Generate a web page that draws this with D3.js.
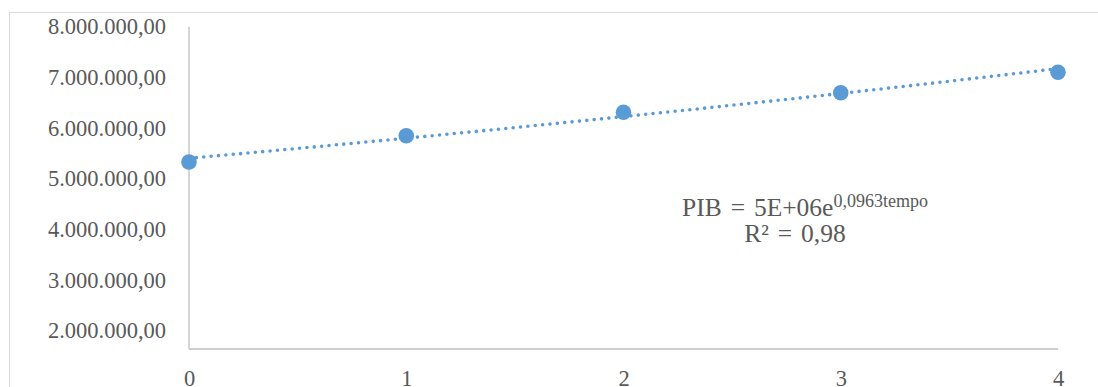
<!DOCTYPE html>
<html>
<head>
<meta charset="utf-8">
<script src="https://cdn.jsdelivr.net/npm/d3@7"></script>
<style>
  html, body { margin: 0; padding: 0; background: #fff; }
  svg { display: block; }
  text { font-family: "Liberation Serif", "Times New Roman", serif; fill: #595959; }
</style>
</head>
<body>
<svg id="chart" width="1098" height="387"></svg>
<script>
// PIB by period (tempo)
const tempo = [0, 1, 2, 3, 4];
const pib = [5328000, 5847000, 6309000, 6696000, 7099000];
const yTicks = [2000000, 3000000, 4000000, 5000000, 6000000, 7000000, 8000000];
const xTicks = [0, 1, 2, 3, 4];
const equationMain = "PIB = 5E+06e";
const equationExp = "0,0963tempo";
const rSquared = "R² = 0,98";

(function () {
  const W = 1098, H = 387;
  const svg = d3.select("#chart");
  const blue = "#5B9BD5";

  const plotLeft = 189, plotRight = 1058, plotTop = 26.7, plotBottom = 349;

  const x = d3.scaleLinear().domain([0, 4]).range([plotLeft, plotRight]);
  const y = d3.scaleLinear().domain([2000000, 8000000]).range([330.5, plotTop]);

  // chart area frame
  svg.append("rect")
    .attr("x", 9.5).attr("y", 12.5)
    .attr("width", W + 20).attr("height", H + 20)
    .attr("fill", "none").attr("stroke", "#d9d9d9").attr("stroke-width", 1);

  const loc = d3.formatLocale({ decimal: ",", thousands: ".", grouping: [3], currency: ["", ""] });
  const fmt = loc.format(",.2f");

  // value axis
  const yAxis = svg.append("g")
    .attr("transform", `translate(${plotLeft},0)`)
    .call(d3.axisLeft(y).tickValues(yTicks).tickFormat(fmt).tickSize(0).tickPadding(23));
  yAxis.select(".domain").remove();
  yAxis.selectAll("text")
    .style("font-family", '"Liberation Serif", "Times New Roman", serif')
    .style("font-size", "22.5px").attr("fill", "#595959");

  // category axis labels
  const xAxis = svg.append("g")
    .attr("transform", `translate(0,${plotBottom})`)
    .call(d3.axisBottom(x).tickValues(xTicks).tickFormat(d3.format("d")).tickSize(0).tickPadding(0));
  xAxis.select(".domain").remove();
  xAxis.selectAll("text")
    .attr("dy", null).attr("y", 36.5)
    .style("font-family", '"Liberation Serif", "Times New Roman", serif')
    .style("font-size", "22.5px").attr("fill", "#595959");

  // axis lines
  svg.append("line")
    .attr("x1", plotLeft).attr("x2", plotLeft).attr("y1", plotTop).attr("y2", plotBottom)
    .attr("stroke", "#bfbfbf").attr("stroke-width", 1.3);
  svg.append("line")
    .attr("x1", plotLeft).attr("x2", plotRight).attr("y1", plotBottom).attr("y2", plotBottom)
    .attr("stroke", "#bfbfbf").attr("stroke-width", 1.3);

  // exponential trend fitted by least squares on ln(PIB)
  const lnY = pib.map(v => Math.log(v));
  const mt = d3.mean(tempo), ml = d3.mean(lnY);
  const b = d3.sum(tempo.map((t, i) => (t - mt) * (lnY[i] - ml))) / d3.sum(tempo.map(t => (t - mt) ** 2));
  const a = Math.exp(ml - b * mt);
  const trend = d3.range(0, 4.0001, 0.05).map(t => [t, a * Math.exp(b * t)]);

  svg.append("path")
    .datum(trend)
    .attr("d", d3.line().x(d => x(d[0])).y(d => y(d[1])))
    .attr("fill", "none")
    .attr("stroke", blue)
    .attr("stroke-width", 3.6)
    .attr("stroke-linecap", "round")
    .attr("stroke-dasharray", "0,7.4");

  // data markers
  svg.append("g").selectAll("circle")
    .data(tempo.map((t, i) => [t, pib[i]]))
    .join("circle")
    .attr("cx", d => x(d[0]))
    .attr("cy", d => y(d[1]))
    .attr("r", 7.8)
    .attr("fill", blue);

  // trendline equation
  const eq = svg.append("text")
    .attr("x", 805).attr("y", 215.7)
    .attr("text-anchor", "middle")
    .style("font-size", "25.5px")
    .style("word-spacing", "2.5px");
  eq.append("tspan").text(equationMain);
  eq.append("tspan").attr("dy", -8.5).style("font-size", "18px").text(equationExp);

  svg.append("text")
    .attr("x", 795).attr("y", 242.3)
    .attr("text-anchor", "middle")
    .style("font-size", "25.5px")
    .style("word-spacing", "2.5px")
    .text(rSquared);
})();
</script>
</body>
</html>
